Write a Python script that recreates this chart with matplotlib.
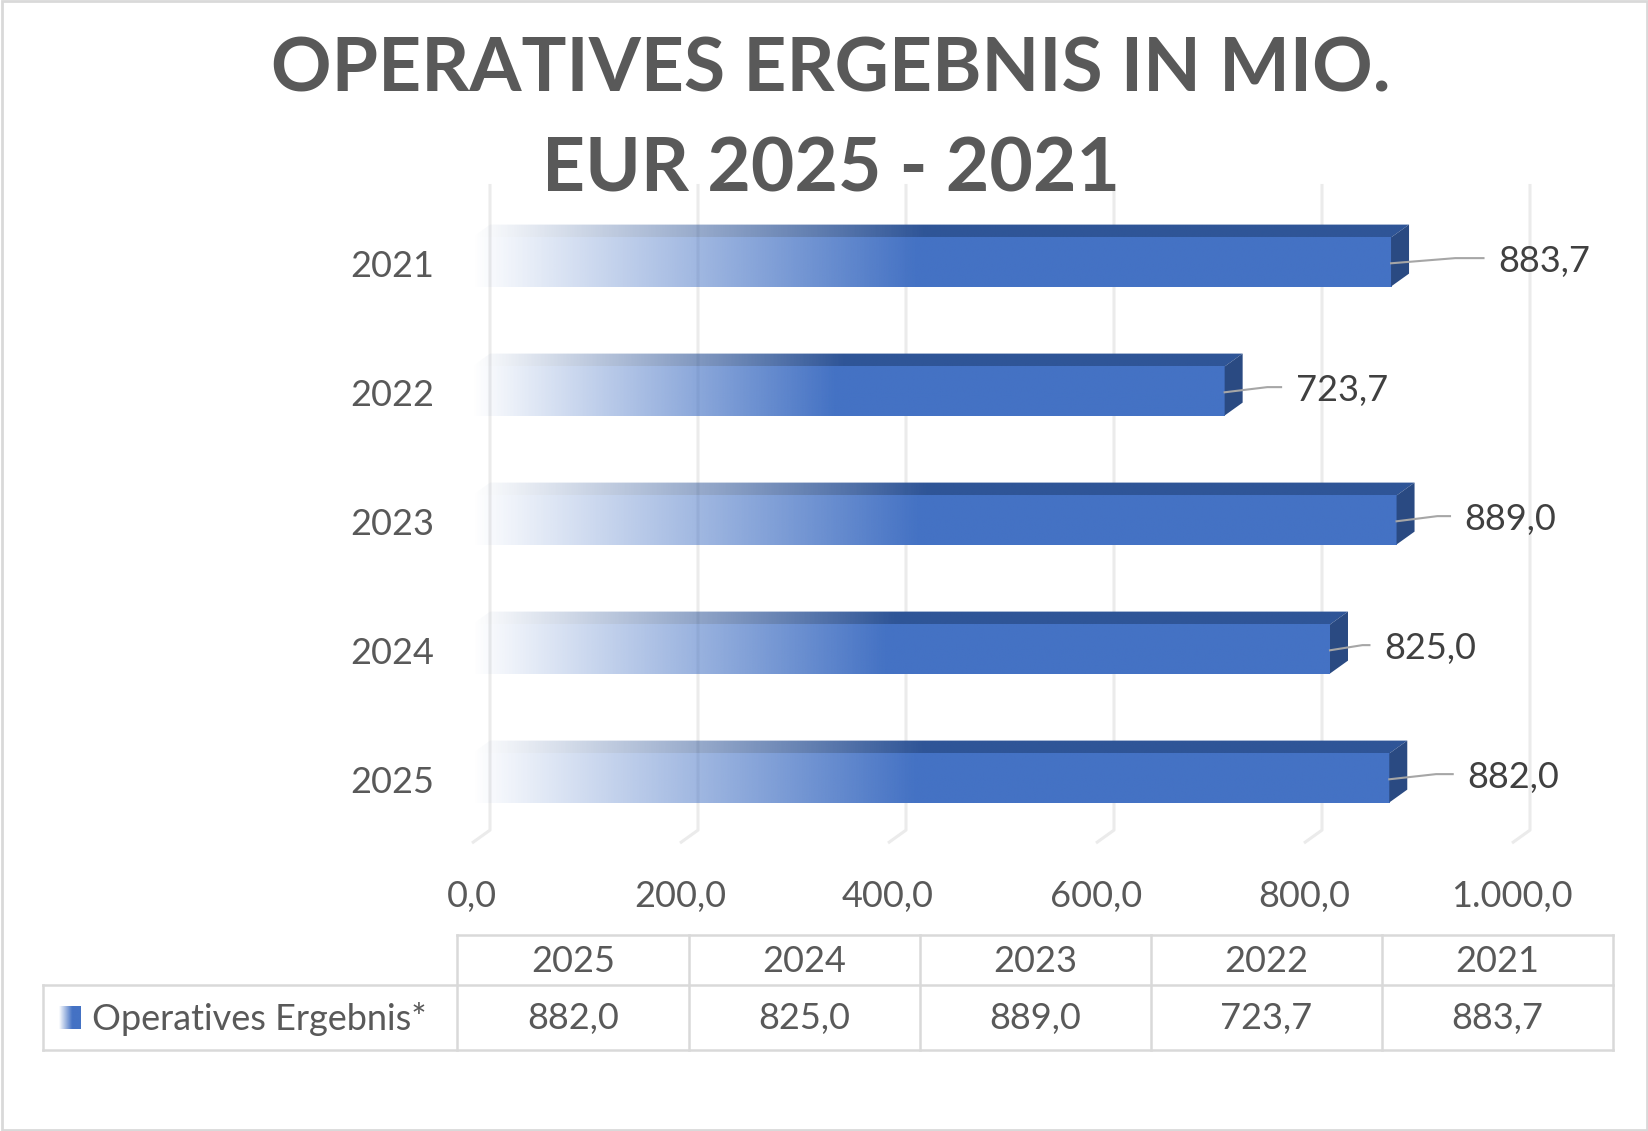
import numpy as np
import matplotlib.pyplot as plt
from matplotlib.patches import Polygon, Rectangle
from matplotlib.colors import to_rgb

# Daten
jahre = ["2021", "2022", "2023", "2024", "2025"]      # Reihenfolge von oben nach unten
werte = [883.7, 723.7, 889.0, 825.0, 882.0]
tabelle_jahre = ["2025", "2024", "2023", "2022", "2021"]
tabelle_werte = [882.0, 825.0, 889.0, 723.7, 883.7]
x_ticks = [0, 200, 400, 600, 800, 1000]
serie = "Operatives Ergebnis*"
titel_zeilen = ["OPERATIVES ERGEBNIS IN MIO.", "EUR 2025 - 2021"]

plt.rcParams['font.family'] = ['Lato', 'DejaVu Sans']

W, H = 1649, 1131
GRAU = "#595959"
BLAU = "#4472C4"
BLAU_OBEN = "#2F5597"
BLAU_SEITE = "#2A4A82"
FS = 26


def de(v):
    # deutsches Zahlenformat 1.000,0
    s = f"{v:,.1f}"
    return s.replace(",", "X").replace(".", ",").replace("X", ".")


def fx(px):
    return px / W


def fy(py):
    return 1 - py / H


# Pixel-Anker des Diagramms
x0_px, sx = 472, 1.04        # Wert 0 und Pixel pro Einheit (Vorderseite)
y0_px, sy = 262, 129         # Mitte erste Kategorie, Abstand
tiefe_x, tiefe_y = 17.3, -0.10
hoehe = 0.38

fig = plt.figure(figsize=(W / 100, H / 100), dpi=100)
ax = fig.add_axes([0, 0, 1, 1])
ax.set_xlim(-x0_px / sx, (W - x0_px) / sx)
ax.set_ylim((H - y0_px) / sy, -y0_px / sy)
ax.axis("off")

# Gitterlinien (Rückwand + Boden)
boden = 4.504
oben = -0.605
for t in x_ticks:
    ax.plot([t + tiefe_x, t + tiefe_x, t], [oben, boden + tiefe_y, boden],
            color="#EBEBEB", lw=2.2, zorder=1, solid_capstyle="butt")
    ax.text(t, 4.915, de(t), ha="center", va="center", fontsize=FS, color=GRAU)


def verlauf(farbe, n=400, anteil=0.48):
    t = np.linspace(0, 1, n)
    a = np.clip(t / anteil, 0, 1)
    img = np.zeros((1, n, 4))
    img[0, :, :3] = to_rgb(farbe)
    img[0, :, 3] = a
    return img


# Beschriftungsabstand (Pixel) je Balken
label_abstand = [107, 71, 68, 54, 78]

for i, (jahr, v) in enumerate(zip(jahre, werte)):
    y_top = i - hoehe / 2
    y_bot = i + hoehe / 2
    # Vorderseite
    ax.imshow(verlauf(BLAU), extent=[0, v, y_bot, y_top], aspect="auto",
              interpolation="bilinear", zorder=3)
    # Oberseite
    oben_poly = Polygon([(0, y_top), (v, y_top), (v + tiefe_x, y_top + tiefe_y),
                         (tiefe_x, y_top + tiefe_y)], closed=True,
                        facecolor="none", edgecolor="none")
    ax.add_patch(oben_poly)
    im = ax.imshow(verlauf(BLAU_OBEN), extent=[0, v + tiefe_x, y_top, y_top + tiefe_y],
                   aspect="auto", interpolation="bilinear", zorder=3)
    im.set_clip_path(oben_poly)
    # Seite
    ax.add_patch(Polygon([(v, y_top), (v + tiefe_x, y_top + tiefe_y),
                          (v + tiefe_x, y_bot + tiefe_y), (v, y_bot)], closed=True,
                         facecolor=BLAU_SEITE, edgecolor="none", zorder=3))
    # Kategorie
    ax.text((434 - x0_px) / sx, i + 0.035, jahr, ha="right", va="center",
            fontsize=FS, color=GRAU)
    # Datenbeschriftung mit Führungslinie
    d = label_abstand[i] / sx
    ax.plot([v, v + d * 0.6, v + d - 14], [i + 0.01, i - 0.03, i - 0.03],
            color="#A6A6A6", lw=1.5, zorder=4)
    ax.text(v + d, i - 0.005, de(v), ha="left", va="center", fontsize=FS, color="#404040")

# Titel
fig.text(fx(831), fy(70), titel_zeilen[0], ha="center", va="center",
         fontsize=54, fontweight="bold", color=GRAU)
fig.text(fx(831), fy(170), titel_zeilen[1], ha="center", va="center",
         fontsize=54, fontweight="bold", color=GRAU)

# Datentabelle
spalten = [457, 689, 920, 1151, 1382, 1613]
r0, r1, r2 = 935, 985, 1050
lk = dict(color="#D9D9D9", lw=1.8, transform=fig.transFigure)
fig.add_artist(plt.Line2D([fx(457), fx(1613)], [fy(r0), fy(r0)], **lk))
fig.add_artist(plt.Line2D([fx(43), fx(1613)], [fy(r1), fy(r1)], **lk))
fig.add_artist(plt.Line2D([fx(43), fx(1613)], [fy(r2), fy(r2)], **lk))
fig.add_artist(plt.Line2D([fx(43), fx(43)], [fy(r1), fy(r2)], **lk))
for s in spalten:
    fig.add_artist(plt.Line2D([fx(s), fx(s)], [fy(r0), fy(r2)], **lk))
for k, (j, v) in enumerate(zip(tabelle_jahre, tabelle_werte)):
    xm = (spalten[k] + spalten[k + 1]) / 2
    fig.text(fx(xm), fy(961), j, ha="center", va="center", fontsize=FS, color=GRAU)
    fig.text(fx(xm), fy(1019), de(v), ha="center", va="center", fontsize=FS, color=GRAU)

# Legendensymbol mit Verlauf
lax = fig.add_axes([fx(59), fy(1029), fx(81) - fx(59), (1029 - 1006) / H])
lax.imshow(verlauf(BLAU, anteil=0.6), extent=[0, 1, 0, 1], aspect="auto",
           interpolation="bilinear")
lax.axis("off")
fig.text(fx(92), fy(1019), serie, ha="left", va="center", fontsize=FS, color=GRAU)

# Rahmen
fig.add_artist(Rectangle((0.001, 0.001), 0.998, 0.998, transform=fig.transFigure,
                         fill=False, edgecolor="#D9D9D9", lw=2))

fig.savefig("out.png", dpi=100)
